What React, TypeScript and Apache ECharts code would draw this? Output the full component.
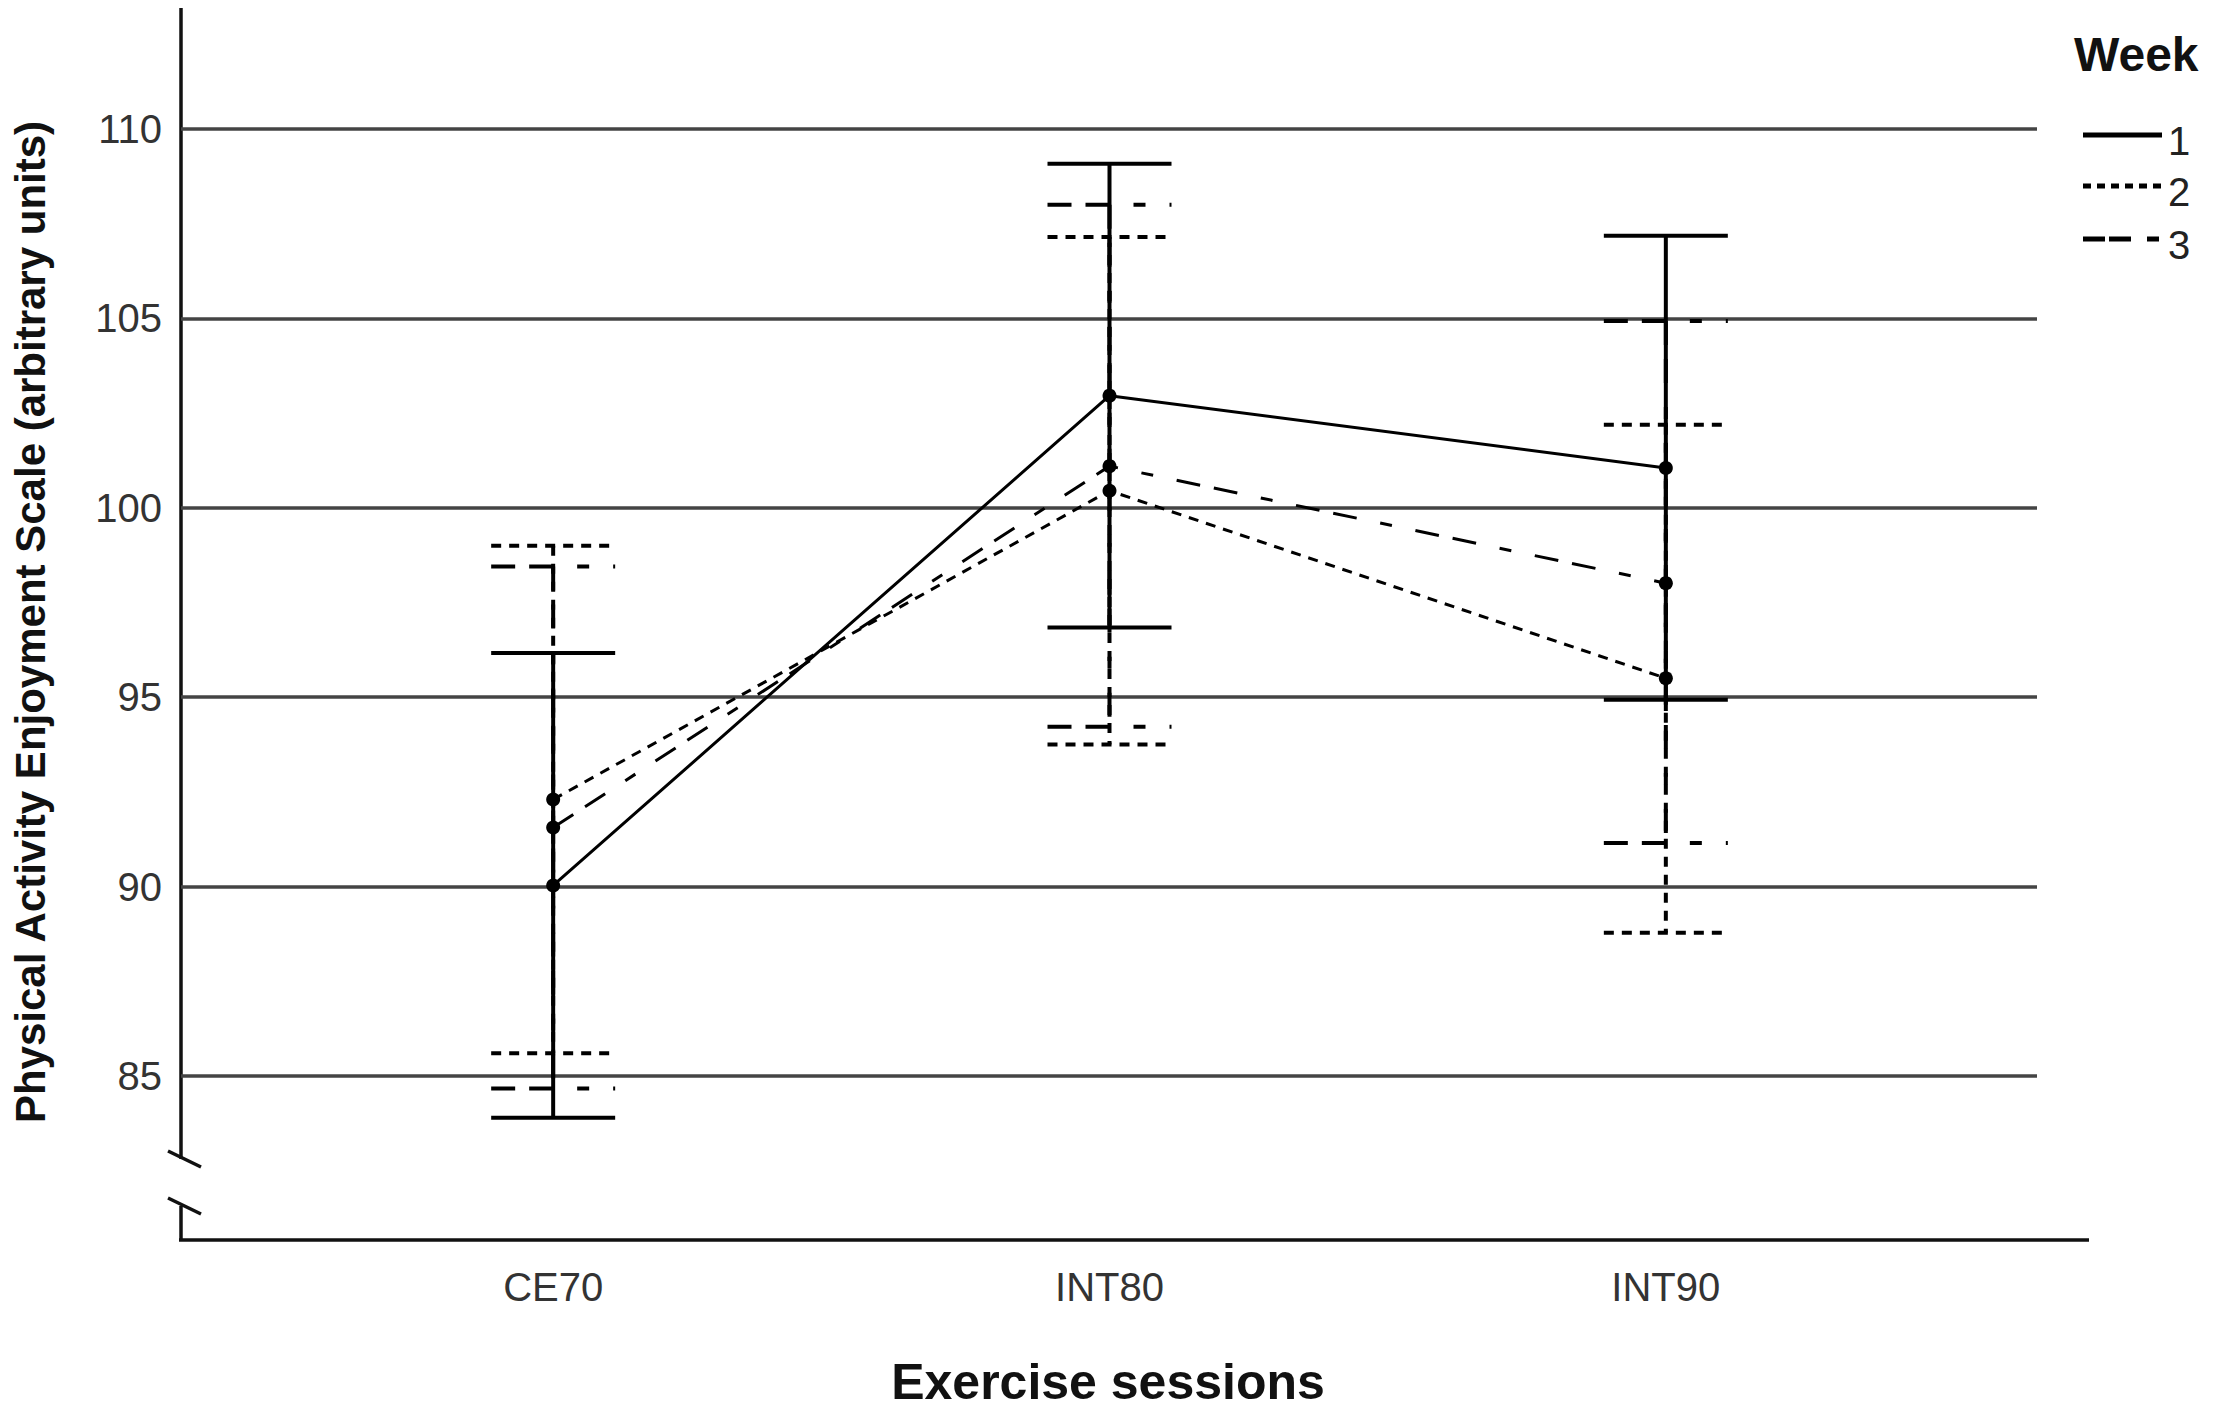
import React, { useEffect, useRef } from "react";
import * as echarts from "echarts";

const categories = ["CE70", "INT80", "INT90"];
const weekNames = ["1", "2", "3"];
const week1Mean = [90.03, 102.96, 101.05];
const week1Upper = [96.17, 109.08, 107.18];
const week1Lower = [83.9, 96.84, 94.93];
const week2Mean = [92.3, 100.45, 95.5];
const week2Upper = [99.0, 107.15, 102.19];
const week2Lower = [85.6, 93.75, 88.78];
const week3Mean = [91.56, 101.1, 98.01];
const week3Upper = [98.45, 108.0, 104.93];
const week3Lower = [84.67, 94.22, 91.15];
const yMin = 85;
const yMax = 110;
const yInterval = 5;

const FONT = "'Liberation Sans', Arial, Helvetica, sans-serif";
const dashes: (number[] | null)[] = [null, [10, 8], [24, 14, 24, 24, 12, 24]];

export default function App() {
  const ref = useRef<HTMLDivElement>(null);
  useEffect(() => {
    document.body.style.margin = "0";
    const chart = echarts.init(ref.current!, undefined, { renderer: "svg" });
    const means = [week1Mean, week2Mean, week3Mean];
    const uppers = [week1Upper, week2Upper, week3Upper];
    const lowers = [week1Lower, week2Lower, week3Lower];

    const errSeries = weekNames.map((name, w) => ({
      type: "custom",
      name: "Week " + name + " CI",
      xAxisIndex: 1,
      yAxisIndex: 1,
      clip: false,
      z: 3,
      encode: { x: 0, y: [1, 2] },
      data: categories.map((_, i) => [i, lowers[w][i], uppers[w][i]]),
      renderItem: (params: any, api: any) => {
        const xi = api.value(0);
        const lo = api.coord([xi, api.value(1)]);
        const hi = api.coord([xi, api.value(2)]);
        const half = 62;
        const style = { stroke: "#000", lineWidth: 4, lineDash: dashes[w], fill: null };
        return {
          type: "group",
          children: [
            { type: "line", shape: { x1: hi[0], y1: hi[1], x2: lo[0], y2: lo[1] }, style },
            { type: "line", shape: { x1: hi[0] - half, y1: hi[1], x2: hi[0] + half, y2: hi[1] }, style },
            { type: "line", shape: { x1: lo[0] - half, y1: lo[1], x2: lo[0] + half, y2: lo[1] }, style },
          ],
        };
      },
    }));

    const lineSeries = weekNames.map((name, w) => ({
      type: "line",
      name: name,
      xAxisIndex: 1,
      yAxisIndex: 1,
      z: 4,
      data: means[w],
      symbol: "circle",
      symbolSize: 14,
      itemStyle: { color: "#000" },
      lineStyle: { color: "#000", width: 3, type: dashes[w] ? dashes[w] : "solid" },
    }));

    const legendY = [135, 186, 239];
    const legendLabelY = [141, 192, 245];
    const legendDash: (number[] | null)[] = [null, [8, 6], [22, 4, 22, 16, 12, 30]];
    const legendGraphics: any[] = [
      {
        type: "text",
        left: 2074,
        top: 30,
        style: { text: "Week", font: `bold 48px ${FONT}`, fill: "#111" },
      },
    ];
    weekNames.forEach((n, i) => {
      legendGraphics.push({
        type: "line",
        shape: { x1: 2083, y1: legendY[i], x2: 2162, y2: legendY[i] },
        style: { stroke: "#000", lineWidth: 5, lineDash: legendDash[i] },
      });
      legendGraphics.push({
        type: "text",
        x: 2168,
        y: legendLabelY[i],
        style: { text: n, font: `40px ${FONT}`, fill: "#222", textVerticalAlign: "middle", verticalAlign: "middle" },
      });
    });

    const axisStyle = { stroke: "#111", lineWidth: 3.5 };
    const option: any = {
      animation: false,
      backgroundColor: "#fff",
      grid: [
        { left: 181, right: 180, top: 129, bottom: 338 },
        { left: 275, right: 273, top: 129, bottom: 338 },
      ],
      xAxis: [
        { type: "value", gridIndex: 0, min: 0, max: 1, show: false },
        {
          type: "category",
          gridIndex: 1,
          data: categories,
          boundaryGap: true,
          offset: 164,
          axisLine: { show: false },
          axisTick: { show: false },
          splitLine: { show: false },
          axisLabel: { fontSize: 40, fontFamily: FONT, color: "#333", margin: 27, lineHeight: 40 },
        },
      ],
      yAxis: [
        {
          type: "value",
          gridIndex: 0,
          min: yMin,
          max: yMax,
          interval: yInterval,
          axisLine: { show: false },
          axisTick: { show: false },
          splitLine: { show: true, lineStyle: { color: "#444", width: 3.5 } },
          axisLabel: { fontSize: 40, fontFamily: FONT, color: "#333", margin: 19, padding: [12, 0, 0, 0] },
        },
        { type: "value", gridIndex: 1, min: yMin, max: yMax, show: false, splitLine: { show: false } },
      ],
      series: [...errSeries, ...lineSeries],
      graphic: [
        { type: "line", shape: { x1: 181, y1: 8, x2: 181, y2: 1159 }, style: axisStyle },
        { type: "line", shape: { x1: 181, y1: 1206, x2: 181, y2: 1240 }, style: axisStyle },
        { type: "line", shape: { x1: 168, y1: 1151, x2: 201, y2: 1167 }, style: axisStyle },
        { type: "line", shape: { x1: 168, y1: 1198, x2: 201, y2: 1214 }, style: axisStyle },
        { type: "line", shape: { x1: 179, y1: 1240, x2: 2089, y2: 1240 }, style: axisStyle },
        {
          type: "text",
          x: 30,
          y: 622,
          rotation: Math.PI / 2,
          style: {
            text: "Physical Activity Enjoyment Scale (arbitrary units)",
            font: `bold 42px ${FONT}`,
            fill: "#111",
            align: "center",
            verticalAlign: "middle",
          },
        },
        {
          type: "text",
          x: 1108,
          y: 1382,
          style: {
            text: "Exercise sessions",
            font: `bold 50px ${FONT}`,
            fill: "#111",
            align: "center",
            verticalAlign: "middle",
          },
        },
        ...legendGraphics,
      ],
    };
    chart.setOption(option);
    return () => chart.dispose();
  }, []);
  return (
    <div
      ref={ref}
      style={{ position: "absolute", left: 0, top: 0, width: 2217, height: 1414, background: "#fff" }}
    />
  );
}
